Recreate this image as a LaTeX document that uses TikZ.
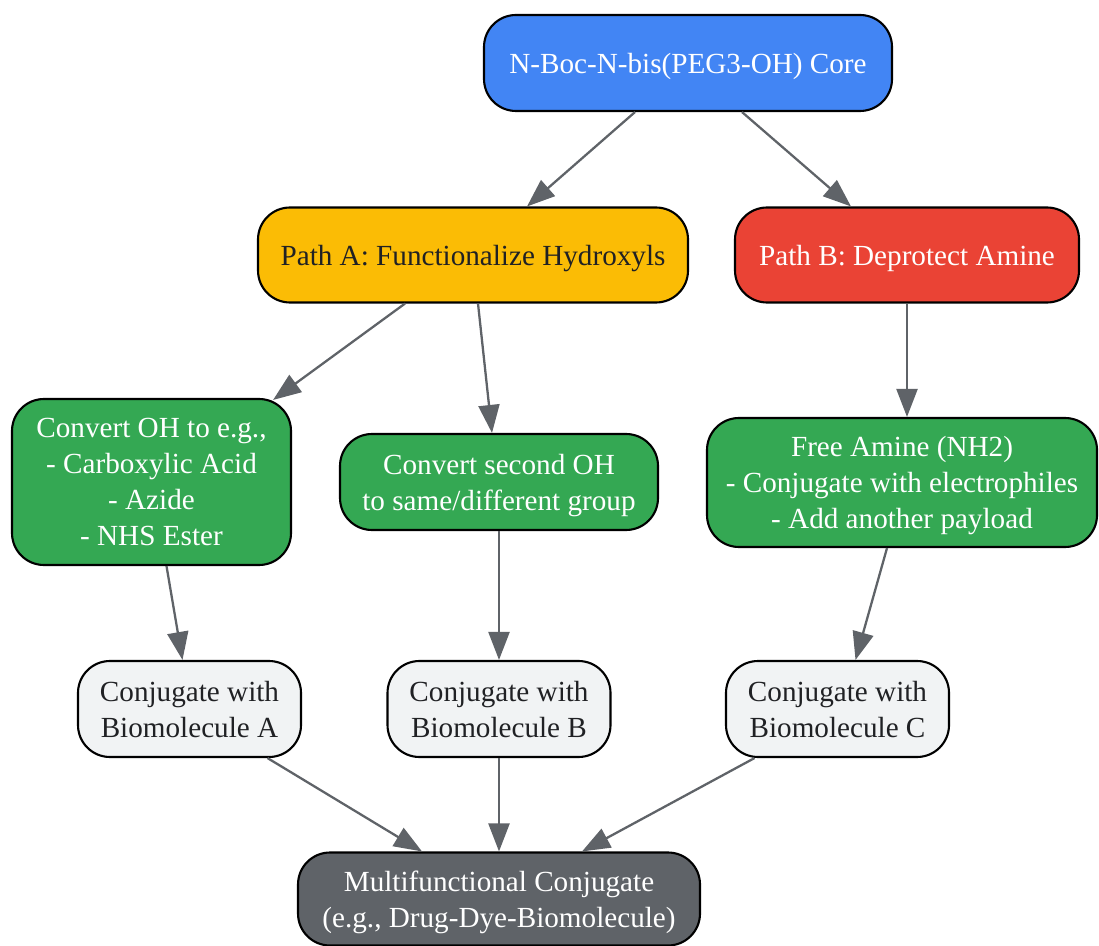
\documentclass[tikz,border=0pt]{standalone}
\usepackage{fontspec}
\setmainfont{Liberation Serif}
\usetikzlibrary{calc,arrows.meta}

\definecolor{gblue}{HTML}{4285F4}
\definecolor{gyellow}{HTML}{FBBC05}
\definecolor{gred}{HTML}{EA4335}
\definecolor{ggreen}{HTML}{34A853}
\definecolor{glight}{HTML}{F1F3F4}
\definecolor{gdark}{HTML}{5F6368}
\definecolor{gtext}{HTML}{202124}

\begin{document}
\begin{tikzpicture}[
        box/.style={draw=black, line width=1.2pt, rounded corners=0.64cm,
            align=center, inner sep=0pt, text depth=0pt,
            font=\fontsize{16.6}{20.4}\selectfont},
        link/.style={draw=gdark, line width=1.3pt,
            -{Triangle[length=0.56cm,width=0.42cm]}}
    ]
            \useasboundingbox (0,0) rectangle (21.98,-18.92);

            \node (core) at (13.76,-1.26) [box, fill=gblue, text=white,
                minimum width=8.16cm, minimum height=1.92cm] {N-Boc-N-bis(PEG3-OH) Core};
            \node (pathA) at (9.46,-5.10) [box, fill=gyellow, text=gtext,
                minimum width=8.6cm, minimum height=1.9cm] {Path A: Functionalize Hydroxyls};
            \node (pathB) at (18.14,-5.10) [box, fill=gred, text=white,
                minimum width=6.88cm, minimum height=1.9cm] {Path B: Deprotect Amine};

            \node (convA) at (3.03,-9.64) [box, fill=ggreen, text=white,
                minimum width=5.58cm, minimum height=3.32cm] {Convert OH to e.g.,\\- Carboxylic Acid\\- Azide\\- NHS Ester};
            \node (convB) at (9.98,-9.64) [box, fill=ggreen, text=white,
                minimum width=6.36cm, minimum height=1.92cm] {Convert second OH\\to same/different group};
            \node (amine) at (18.04,-9.65) [box, fill=ggreen, text=white,
                minimum width=7.8cm, minimum height=2.58cm] {Free Amine (NH2)\\- Conjugate with electrophiles\\- Add another payload};

            \node (conjA) at (3.79,-14.18) [box, fill=glight, text=gtext,
                minimum width=4.46cm, minimum height=1.92cm] {Conjugate with\\Biomolecule A};
            \node (conjB) at (9.98,-14.18) [box, fill=glight, text=gtext,
                minimum width=4.46cm, minimum height=1.92cm] {Conjugate with\\Biomolecule B};
            \node (conjC) at (16.75,-14.18) [box, fill=glight, text=gtext,
                minimum width=4.46cm, minimum height=1.92cm] {Conjugate with\\Biomolecule C};

            \node (multi) at (9.98,-17.98) [box, fill=gdark, text=white,
                minimum width=8.04cm, minimum height=1.86cm] {Multifunctional Conjugate\\(e.g., Drug-Dye-Biomolecule)};

            % top level
            \draw [link] ($(core.south) + (-1.06,0)$) -- ($(pathA.north) + (1.08,0)$);
            \draw [link] ($(core.south) + (1.08,0)$) -- ($(pathB.north) + (-1.12,0)$);

            % path A and path B
            \draw [link] ($(pathA.south) + (-1.36,0)$) -- ($(convA.north east) + (-0.38,-0.04)$);
            \draw [link] ($(pathA.south) + (0.10,0)$) -- ($(convB.north) + (-0.14,0)$);
            \draw [link] ($(pathB.south) + (0,0)$) -- (pathB.south |- amine.north);

            % conjugation steps
            \draw [link] ($(convA.south) + (0.30,0)$) -- ($(conjA.north) + (-0.14,0)$);
            \draw [link] (convB) -- (conjB);
            \draw [link] ($(amine.south) + (-0.30,0)$) -- ($(conjC.north) + (0.36,0)$);

            \draw [link] ($(conjA.south) + (1.56,0)$) -- ($(multi.north) + (-1.54,0)$);
            \draw [link] (conjB) -- (multi);
            \draw [link] ($(conjC.south) + (-1.66,0)$) -- ($(multi.north) + (1.66,0)$);

        \end{tikzpicture}
\end{document}
